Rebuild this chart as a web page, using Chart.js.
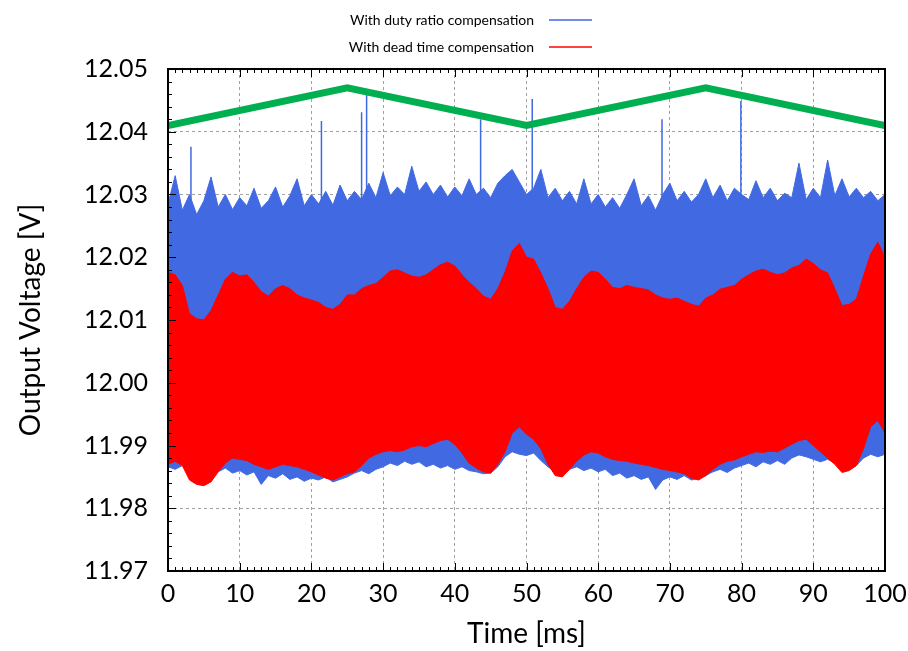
<!DOCTYPE html>
<html>
<head>
<meta charset="utf-8">
<script src="https://cdn.jsdelivr.net/npm/chart.js@4.4.1/dist/chart.umd.min.js"></script>
<style>
  html, body { margin: 0; padding: 0; background: #fff; }
  #wrap { width: 908px; height: 651px; }
</style>
</head>
<body>
<div id="wrap"><canvas id="voltChart" width="908" height="651"></canvas></div>
<script>
// Time axis samples (ms)
const timeMs = [
  0, 1, 2, 3, 4, 5, 6, 7, 8, 9, 10, 11, 12, 13, 14, 15, 16, 17, 18, 19,
  20, 21, 22, 23, 24, 25, 26, 27, 28, 29, 30, 31, 32, 33, 34, 35, 36, 37, 38, 39,
  40, 41, 42, 43, 44, 45, 46, 47, 48, 49, 50, 51, 52, 53, 54, 55, 56, 57, 58, 59,
  60, 61, 62, 63, 64, 65, 66, 67, 68, 69, 70, 71, 72, 73, 74, 75, 76, 77, 78, 79,
  80, 81, 82, 83, 84, 85, 86, 87, 88, 89, 90, 91, 92, 93, 94, 95, 96, 97, 98, 99, 100
];

// With duty ratio compensation: upper / lower envelope of the ripple (V)
const dutyHigh = [
  12.0285, 12.0330, 12.0275, 12.0300, 12.0268, 12.0290, 12.0328, 12.0280, 12.0300, 12.0276,
  12.0295, 12.0282, 12.0310, 12.0278, 12.0290, 12.0312, 12.0280, 12.0298, 12.0325, 12.0282,
  12.0300, 12.0285, 12.0305, 12.0283, 12.0315, 12.0290, 12.0305, 12.0292, 12.0318, 12.0295,
  12.0335, 12.0298, 12.0312, 12.0300, 12.0345, 12.0305, 12.0320, 12.0300, 12.0315, 12.0296,
  12.0312, 12.0298, 12.0325, 12.0300, 12.0310, 12.0295, 12.0318, 12.0330, 12.0340, 12.0320,
  12.0300, 12.0310, 12.0340, 12.0295, 12.0310, 12.0290, 12.0305, 12.0285, 12.0325, 12.0285,
  12.0300, 12.0280, 12.0295, 12.0278, 12.0300, 12.0325, 12.0282, 12.0298, 12.0275, 12.0300,
  12.0318, 12.0290, 12.0305, 12.0288, 12.0300, 12.0325, 12.0295, 12.0315, 12.0290, 12.0310,
  12.0300, 12.0292, 12.0322, 12.0295, 12.0310, 12.0290, 12.0302, 12.0295, 12.0350, 12.0292,
  12.0310, 12.0295, 12.0355, 12.0298, 12.0325, 12.0296, 12.0310, 12.0295, 12.0305, 12.0290, 12.0300
];
const dutyLow = [
  11.9866, 11.9862, 11.9868, 11.9858, 11.9860, 11.9855, 11.9862, 11.9858, 11.9864, 11.9856,
  11.9860, 11.9853, 11.9858, 11.9838, 11.9852, 11.9848, 11.9855, 11.9846, 11.9850, 11.9843,
  11.9848, 11.9845, 11.9850, 11.9842, 11.9846, 11.9850, 11.9856, 11.9860, 11.9855, 11.9862,
  11.9866, 11.9872, 11.9868, 11.9875, 11.9870, 11.9874, 11.9866, 11.9870, 11.9864, 11.9868,
  11.9862, 11.9866, 11.9860, 11.9858, 11.9855, 11.9856, 11.9866, 11.9882, 11.9890, 11.9886,
  11.9884, 11.9888, 11.9876, 11.9866, 11.9858, 11.9855, 11.9862, 11.9866, 11.9860, 11.9864,
  11.9858, 11.9862, 11.9852, 11.9856, 11.9848, 11.9852, 11.9846, 11.9850, 11.9830, 11.9845,
  11.9850, 11.9846, 11.9852, 11.9845, 11.9848, 11.9852, 11.9858, 11.9862, 11.9857, 11.9864,
  11.9868, 11.9872, 11.9866, 11.9874, 11.9870, 11.9876, 11.9870, 11.9880, 11.9885, 11.9882,
  11.9878, 11.9874, 11.9878, 11.9872, 11.9866, 11.9862, 11.9868, 11.9880, 11.9886, 11.9882, 11.9886
];

// Tall isolated spikes of the duty ratio trace
const spikeTimes = [3.2, 21.4, 27.0, 27.7, 43.6, 50.8, 68.9, 79.9];
const spikePeaks = [12.0376, 12.0417, 12.0431, 12.0460, 12.0420, 12.0452, 12.0420, 12.0449];
const spikeBase = 12.0285;

// With dead time compensation: upper / lower envelope (V)
const deadHigh = [
  12.0176, 12.0172, 12.0155, 12.0110, 12.0102, 12.0100, 12.0115, 12.0140, 12.0165, 12.0176,
  12.0170, 12.0172, 12.0160, 12.0145, 12.0138, 12.0150, 12.0155, 12.0150, 12.0140, 12.0135,
  12.0132, 12.0128, 12.0120, 12.0117, 12.0125, 12.0140, 12.0140, 12.0150, 12.0155, 12.0158,
  12.0168, 12.0178, 12.0180, 12.0175, 12.0170, 12.0168, 12.0172, 12.0180, 12.0188, 12.0192,
  12.0186, 12.0172, 12.0160, 12.0150, 12.0138, 12.0133, 12.0150, 12.0176, 12.0210, 12.0222,
  12.0200, 12.0197, 12.0175, 12.0150, 12.0120, 12.0117, 12.0130, 12.0150, 12.0168, 12.0178,
  12.0176, 12.0165, 12.0152, 12.0150, 12.0155, 12.0152, 12.0150, 12.0148, 12.0140, 12.0135,
  12.0133, 12.0135, 12.0130, 12.0125, 12.0122, 12.0135, 12.0140, 12.0149, 12.0152, 12.0155,
  12.0165, 12.0172, 12.0178, 12.0181, 12.0176, 12.0172, 12.0175, 12.0183, 12.0187, 12.0197,
  12.0190, 12.0180, 12.0175, 12.0150, 12.0123, 12.0125, 12.0133, 12.0170, 12.0205, 12.0224, 12.0200
];
const deadLow = [
  11.9870, 11.9875, 11.9868, 11.9845, 11.9838, 11.9836, 11.9842, 11.9858, 11.9872, 11.9880,
  11.9878, 11.9876, 11.9870, 11.9866, 11.9862, 11.9866, 11.9870, 11.9868, 11.9866, 11.9862,
  11.9858, 11.9853, 11.9848, 11.9845, 11.9850, 11.9855, 11.9858, 11.9868, 11.9880, 11.9886,
  11.9890, 11.9892, 11.9890, 11.9893, 11.9898, 11.9900, 11.9898, 11.9903, 11.9908, 11.9910,
  11.9902, 11.9888, 11.9872, 11.9864, 11.9858, 11.9856, 11.9870, 11.9890, 11.9920, 11.9930,
  11.9918, 11.9910, 11.9895, 11.9870, 11.9852, 11.9850, 11.9862, 11.9875, 11.9885, 11.9890,
  11.9888, 11.9882, 11.9878, 11.9876, 11.9875, 11.9872, 11.9870, 11.9868, 11.9865, 11.9862,
  11.9860, 11.9858, 11.9855, 11.9848, 11.9845, 11.9852, 11.9862, 11.9870, 11.9875, 11.9877,
  11.9882, 11.9886, 11.9890, 11.9889, 11.9891, 11.9890, 11.9896, 11.9902, 11.9908, 11.9910,
  11.9900, 11.9890, 11.9880, 11.9870, 11.9857, 11.9860, 11.9868, 11.9895, 11.9930, 11.9940, 11.9920
];

// Green reference triangle
const refTimes = [0, 25, 50, 75, 100];
const refVolts = [12.041, 12.047, 12.041, 12.047, 12.041];

// Axis ticks
const xTickValues = [0, 10, 20, 30, 40, 50, 60, 70, 80, 90, 100];
const yTickValues = [11.97, 11.98, 11.99, 12.00, 12.01, 12.02, 12.03, 12.04, 12.05];
const yTickLabels = ['11.97', '11.98', '11.99', '12.00', '12.01', '12.02', '12.03', '12.04', '12.05'];

const legendLabels = ['With duty ratio compensation', 'With dead time compensation'];

const BLUE = '#4169e1';
const RED = '#ff0000';
const GREEN = '#00b050';
const FONT = 'Lato, "Open Sans", sans-serif';

const toPoints = (xs, ys) => xs.map((x, i) => ({ x: x, y: ys[i] }));

const spikePoints = [];
spikeTimes.forEach((t, i) => {
  spikePoints.push({ x: t, y: spikeBase }, { x: t, y: spikePeaks[i] }, { x: t, y: null });
});

// gnuplot style frame, inner ticks and legend
const framePlugin = {
  id: 'frame',
  afterDraw(chart) {
    const { ctx, chartArea: a, scales } = chart;
    ctx.save();
    ctx.strokeStyle = '#000';
    ctx.lineWidth = 1;
    ctx.beginPath();
    // x ticks every 1 ms (bottom + top)
    for (let t = 0; t <= 100; t++) {
      const px = Math.round(scales.x.getPixelForValue(t)) + 0.5;
      const len = t % 10 === 0 ? 8 : 4;
      ctx.moveTo(px, a.bottom); ctx.lineTo(px, a.bottom - len);
      ctx.moveTo(px, a.top); ctx.lineTo(px, a.top + len);
    }
    // y ticks every 0.002 V (left)
    for (let k = 0; k <= 40; k++) {
      const v = 11.97 + k * 0.002;
      const py = Math.round(scales.y.getPixelForValue(v)) + 0.5;
      const len = k % 5 === 0 ? 8 : 4;
      ctx.moveTo(a.left, py); ctx.lineTo(a.left + len, py);
    }
    ctx.stroke();
    ctx.lineWidth = 2;
    ctx.strokeRect(a.left, a.top, a.right - a.left, a.bottom - a.top);

    // legend
    ctx.font = '14px ' + FONT;
    ctx.fillStyle = '#000';
    ctx.textAlign = 'right';
    ctx.textBaseline = 'middle';
    const colors = [BLUE, RED];
    const rows = [20, 47];
    legendLabels.forEach((label, i) => {
      ctx.fillText(label, 534, rows[i]);
      ctx.strokeStyle = colors[i];
      ctx.lineWidth = 1.5;
      ctx.beginPath();
      ctx.moveTo(549, rows[i]);
      ctx.lineTo(592, rows[i]);
      ctx.stroke();
    });
    ctx.restore();
  }
};

const ctx = document.getElementById('voltChart').getContext('2d');
new Chart(ctx, {
  type: 'line',
  data: {
    datasets: [
      { data: toPoints(timeMs, dutyHigh), borderColor: BLUE, borderWidth: 1, fill: false, order: 3 },
      { data: toPoints(timeMs, dutyLow), borderColor: BLUE, borderWidth: 1, backgroundColor: BLUE, fill: '-1', order: 3 },
      { data: spikePoints, borderColor: BLUE, borderWidth: 1.5, fill: false, spanGaps: false, order: 2 },
      { data: toPoints(timeMs, deadHigh), borderColor: RED, borderWidth: 1, fill: false, order: 1 },
      { data: toPoints(timeMs, deadLow), borderColor: RED, borderWidth: 1, backgroundColor: RED, fill: '-1', order: 1 },
      { data: toPoints(refTimes, refVolts), borderColor: GREEN, borderWidth: 7, fill: false, order: 0 }
    ]
  },
  options: {
    responsive: false,
    animation: false,
    layout: { padding: { top: 69, right: 23, left: 0, bottom: 0 } },
    elements: { point: { radius: 0 }, line: { tension: 0 } },
    plugins: { legend: { display: false }, tooltip: { enabled: false } },
    scales: {
      x: {
        type: 'linear',
        min: 0,
        max: 100,
        afterBuildTicks: s => { s.ticks = xTickValues.map(v => ({ value: v })); },
        afterFit: s => { s.height = 80; s.paddingLeft = 0; s.paddingRight = 0; },
        ticks: { color: '#000', font: { family: FONT, size: 25 }, padding: 8, maxRotation: 0 },
        grid: { color: '#a0a0a0', lineWidth: 1, drawTicks: false },
        border: { display: false, dash: [3, 3] },
        title: { display: true, text: 'Time [ms]', color: '#000', font: { family: FONT, size: 28 }, padding: { top: 0, bottom: 0 } }
      },
      y: {
        min: 11.97,
        max: 12.05,
        afterBuildTicks: s => { s.ticks = yTickValues.map(v => ({ value: v })); },
        afterFit: s => { s.width = 168; s.paddingTop = 0; s.paddingBottom = 0; },
        ticks: { color: '#000', font: { family: FONT, size: 25 }, padding: 20, callback: (v, i) => yTickLabels[i] },
        grid: { color: '#a0a0a0', lineWidth: 1, drawTicks: false },
        border: { display: false, dash: [3, 3] },
        title: { display: true, text: 'Output Voltage [V]', color: '#000', font: { family: FONT, size: 28 }, padding: { top: 14, bottom: 14 } }
      }
    }
  },
  plugins: [framePlugin]
});
</script>
</body>
</html>
